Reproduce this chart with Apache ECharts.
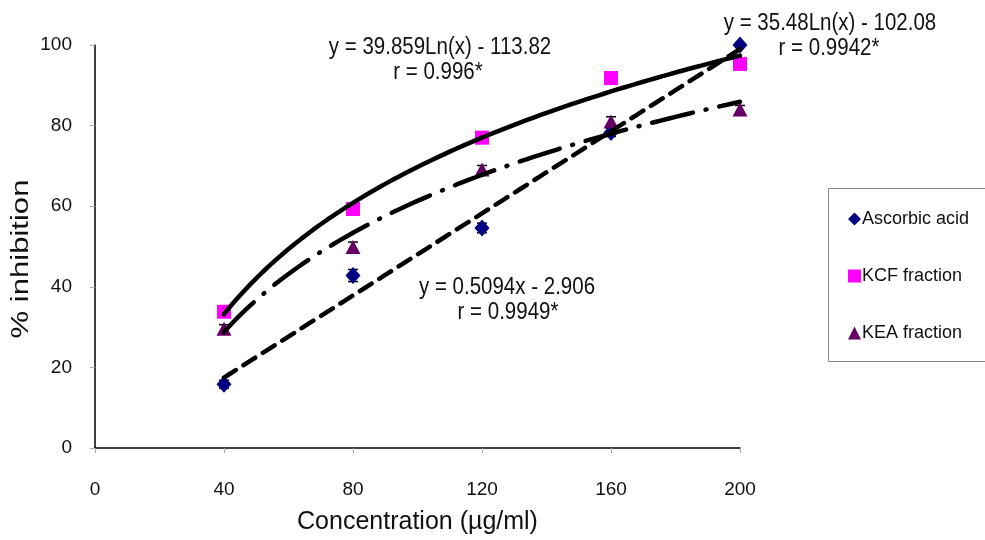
<!DOCTYPE html>
<html><head><meta charset="utf-8">
<script src="https://cdn.jsdelivr.net/npm/echarts@6/dist/echarts.min.js"></script>
<style>html,body{margin:0;padding:0;background:#fff}#c{width:985px;height:540px}</style>
</head><body><div id="c"></div>
<script>
const concentrations = [40, 80, 120, 160, 200];
const ascorbic = [15.8, 42.8, 54.6, 78.3, 100];
const kcf = [33.8, 59.3, 77, 91.8, 95.3];
const kea = [29.6, 49.9, 69.1, 81, 84];
const ascorbicErr = [1, 1.5, 1.2, 1, 0.5];
const kcfErr = [0.8, 1, 0.8, 0.8, 0.8];
const keaErr = [1, 1.2, 1, 1.2, 1];
// trendline coefficients as printed on the chart
const ascorbicLin = {slope: 0.5094, intercept: -2.906};
const kcfLog = {a: 39.859, b: -113.82};
const keaLog = {a: 35.48, b: -102.08};
const xTicks = [0, 40, 80, 120, 160, 200];

const trendX = [];
for (let x = 40; x <= 200; x += 2) trendX.push(x);
const linLine = trendX.map(x => [x, ascorbicLin.slope * x + ascorbicLin.intercept]);
const kcfLine = trendX.map(x => [x, kcfLog.a * Math.log(x) + kcfLog.b]);
const keaLine = trendX.map(x => [x, keaLog.a * Math.log(x) + keaLog.b]);

function pts(vals){ return concentrations.map((x,i)=>[x, vals[i]]); }
function errData(vals, errs){ return concentrations.map((x,i)=>[x, vals[i]-errs[i], vals[i]+errs[i]]); }
function errSeries(vals, errs){
  return {
    type: 'custom', silent: true, z: 2,
    data: errData(vals, errs),
    renderItem: function(params, api){
      const x = api.value(0);
      const lo = api.coord([x, api.value(1)]);
      const hi = api.coord([x, api.value(2)]);
      const w = 5;
      const st = {stroke: '#000', lineWidth: 1.5};
      return {type: 'group', children: [
        {type: 'line', shape: {x1: lo[0], y1: lo[1], x2: hi[0], y2: hi[1]}, style: st},
        {type: 'line', shape: {x1: lo[0]-w, y1: lo[1], x2: lo[0]+w, y2: lo[1]}, style: st},
        {type: 'line', shape: {x1: hi[0]-w, y1: hi[1], x2: hi[0]+w, y2: hi[1]}, style: st}
      ]};
    }
  };
}

const FONT = 'Liberation Sans';
const EQ = '20.5px "Liberation Sans"';
function eqText(x, y, text){
  return {type: 'text', x: x, y: y, scaleY: 1.18, style: {text: text, font: EQ, fill: '#111', align: 'center', verticalAlign: 'middle'}};
}
const chart = echarts.init(document.getElementById('c'));
chart.setOption({
  animation: false,
  textStyle: {fontFamily: FONT},
  grid: {left: 95, right: 245, top: 45, bottom: 90},
  xAxis: {
    type: 'value', min: 0, max: 200, interval: 40,
    axisLine: {lineStyle: {color: '#000', width: 1.5}},
    axisTick: {show: true, length: 5, lineStyle: {color: '#aaa'}},
    splitLine: {show: false},
    axisLabel: {color: '#111', fontSize: 19, margin: 32, fontFamily: FONT},
    name: 'Concentration (µg/ml)', nameLocation: 'middle', nameGap: 62,
    nameTextStyle: {color: '#111', fontSize: 25, fontFamily: FONT}
  },
  yAxis: {
    type: 'value', min: 0, max: 100, interval: 20,
    axisLine: {show: true, lineStyle: {color: '#000', width: 1.5}},
    axisTick: {show: true, length: 5, lineStyle: {color: '#aaa'}},
    splitLine: {show: false},
    axisLabel: {color: '#111', fontSize: 19, margin: 23, fontFamily: FONT}
  },
  legend: {
    orient: 'vertical', left: 843, top: 205, itemGap: 39,
    itemWidth: 13, itemHeight: 13, itemStyle: {borderWidth: 0, opacity: 1},
    textStyle: {fontSize: 18, color: '#111', fontFamily: FONT, padding: [0,0,0,-4]},
    data: [
      {name: 'Ascorbic acid', icon: 'diamond'},
      {name: 'KCF fraction', icon: 'rect'},
      {name: 'KEA fraction', icon: 'triangle'}
    ]
  },
  graphic: [
    {type: 'rect', left: 826, top: 186, shape: {width: 170, height: 173}, style: {fill: 'none', stroke: '#888', lineWidth: 1}},
    {type: 'text', x: 22, y: 259, rotation: Math.PI / 2, scaleX: 1.35, style: {text: '% inhibition', font: '23px "Liberation Sans"', fill: '#111', align: 'center', verticalAlign: 'middle'}},
    eqText(440, 47, 'y = 39.859Ln(x) - 113.82'),
    eqText(438, 72, 'r = 0.996*'),
    eqText(830, 23, 'y = 35.48Ln(x) - 102.08'),
    eqText(829, 48, 'r = 0.9942*'),
    eqText(507, 287, 'y = 0.5094x - 2.906'),
    eqText(508, 312, 'r = 0.9949*')
  ],
  series: [
    errSeries(ascorbic, ascorbicErr),
    errSeries(kcf, kcfErr),
    errSeries(kea, keaErr),
    {name: 'Ascorbic acid', type: 'scatter', data: pts(ascorbic), symbol: 'diamond', symbolSize: [15, 17], itemStyle: {color: '#000080', opacity: 1}, z: 4},
    {name: 'KCF fraction', type: 'scatter', data: pts(kcf), symbol: 'rect', symbolSize: 14, itemStyle: {color: '#FF00FF', opacity: 1}, z: 4},
    {name: 'KEA fraction', type: 'scatter', data: pts(kea), symbol: 'triangle', symbolSize: [15, 14], itemStyle: {color: '#660066', opacity: 1}, z: 4},
    {name: 'lin', type: 'line', data: linLine, showSymbol: false, silent: true, z: 6,
     lineStyle: {color: '#000', width: 4.5, type: [14, 9], cap: 'round'}},
    {name: 'kcfLog', type: 'line', data: kcfLine, showSymbol: false, silent: true, z: 6,
     lineStyle: {color: '#000', width: 4.5, cap: 'round'}},
    {name: 'keaLog', type: 'line', data: keaLine, showSymbol: false, silent: true, z: 6,
     lineStyle: {color: '#000', width: 4.5, type: [42, 13, 1, 13], cap: 'round'}}
  ]
});
</script></body></html>
